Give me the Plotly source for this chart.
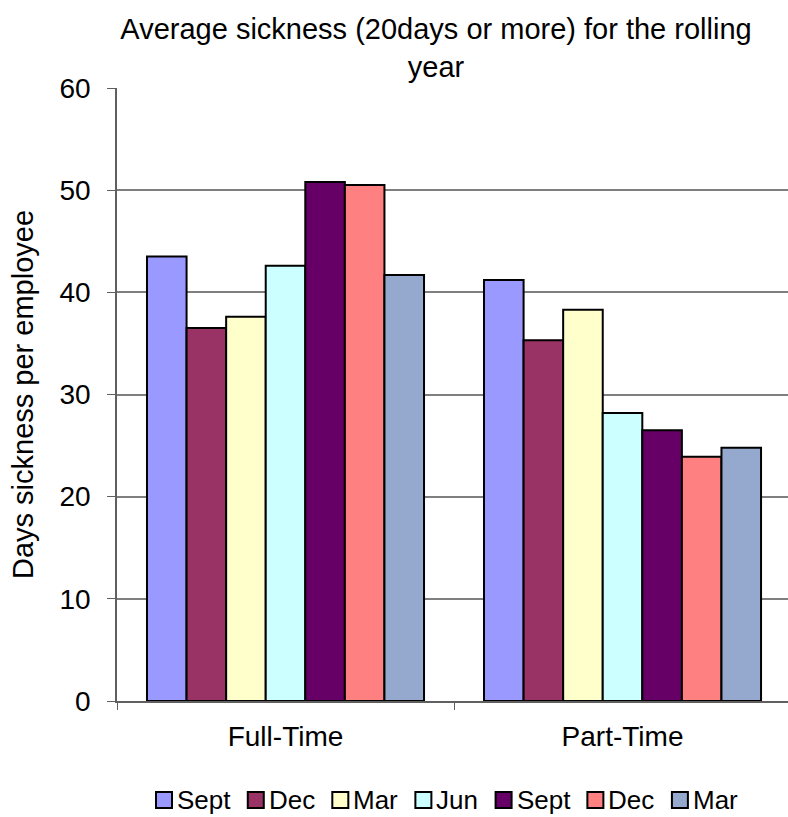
import plotly.graph_objects as go

categories = ["Full-Time", "Part-Time"]
series_names = ["Sept", "Dec", "Mar", "Jun", "Sept", "Dec", "Mar"]
sept_1 = [43.5, 41.2]
dec_1 = [36.5, 35.3]
mar_1 = [37.6, 38.3]
jun_1 = [42.6, 28.2]
sept_2 = [50.8, 26.5]
dec_2 = [50.5, 23.9]
mar_2 = [41.7, 24.8]
series_values = [sept_1, dec_1, mar_1, jun_1, sept_2, dec_2, mar_2]
colors = ["#9999FF", "#993366", "#FFFFCC", "#CCFFFF", "#660066", "#FF8080", "#95A9CF"]
y_ticks = [0, 10, 20, 30, 40, 50, 60]

FONT = "Liberation Sans, Arial, sans-serif"
W, H = 788, 817
ML, MR, MT, MB = 117, 0, 88, 116
PW, PH = W - ML - MR, H - MT - MB

fig = go.Figure()
for name, vals, col in zip(series_names, series_values, colors):
    fig.add_trace(go.Bar(
        x=categories, y=vals, name=name, showlegend=False,
        marker=dict(color=col, line=dict(color="black", width=2)),
    ))

# custom legend (symbol right next to the text, as in the original)
ARIAL = {"S": 667, "e": 556, "p": 556, "t": 278, "D": 722, "c": 500, "M": 833,
         "a": 556, "r": 333, "J": 500, "u": 556, "n": 556}
LEG_FS = 26
SYM = 16
def tw(s):
    return sum(ARIAL.get(ch, 556) for ch in s) / 1000 * LEG_FS

def px2paper_x(px):
    return (px - ML) / PW

def px2paper_y(py):
    return (H - MB - py) / PH

shapes = []
annotations = []
x = 156.0
yc = 800.0
for name, col in zip(series_names, colors):
    shapes.append(dict(
        type="rect", xref="paper", yref="paper",
        x0=px2paper_x(x), x1=px2paper_x(x + SYM),
        y0=px2paper_y(yc + SYM / 2), y1=px2paper_y(yc - SYM / 2),
        fillcolor=col, line=dict(color="black", width=2),
    ))
    annotations.append(dict(
        text=name, xref="paper", yref="paper", showarrow=False,
        x=px2paper_x(x + SYM + 3), xanchor="left",
        y=px2paper_y(yc), yanchor="middle",
        font=dict(family=FONT, size=LEG_FS, color="black"),
    ))
    x += SYM + 4 + tw(name) + 18.3

fig.update_layout(
    width=W, height=H,
    paper_bgcolor="white", plot_bgcolor="white",
    barmode="group", bargap=0.178, bargroupgap=0,
    margin=dict(l=ML, r=MR, t=MT, b=MB),
    font=dict(family=FONT, size=28, color="black"),
    title=dict(
        text="Average sickness (20days or more) for the rolling<br>year",
        x=436 / W, xanchor="center", xref="container",
        y=1 - 39 / H, yanchor="top", yref="container",
        font=dict(family=FONT, size=29, color="black"),
    ),
    showlegend=False,
    shapes=shapes,
    annotations=annotations,
)
fig.update_xaxes(
    type="category", range=[-0.5, 1.491], tickson="boundaries",
    ticks="outside", ticklen=7, tickcolor="#606060", tickwidth=1.3,
    showline=True, linecolor="#606060", linewidth=1.5,
    showgrid=False, ticklabelstandoff=10,
    tickfont=dict(family=FONT, size=28, color="black"),
)
fig.update_yaxes(
    range=[0, 60], tickvals=y_ticks, ticks="outside", ticklen=8,
    tickcolor="#606060", tickwidth=1.3,
    showline=True, linecolor="#606060", linewidth=1.5,
    showgrid=True, gridcolor="#7f7f7f", gridwidth=1.5, zeroline=False,
    ticklabelstandoff=11,
    tickfont=dict(family=FONT, size=28, color="black"),
    title=dict(text="Days sickness per employee", standoff=17,
               font=dict(family=FONT, size=29, color="black")),
)

fig.write_html("out.html")
